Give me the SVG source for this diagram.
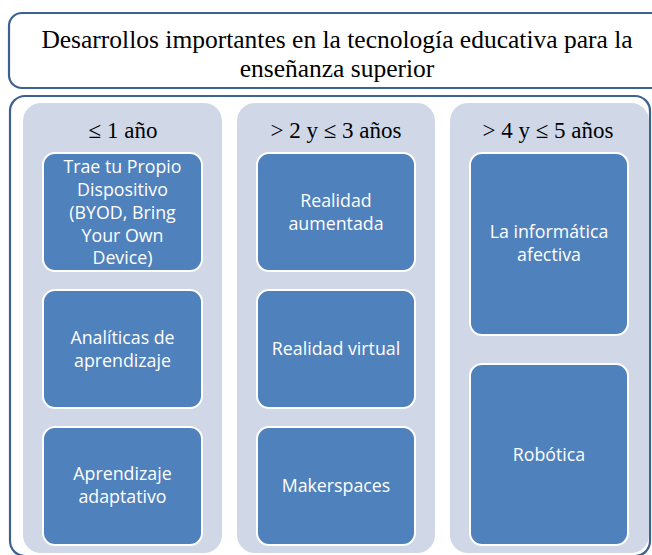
<svg xmlns="http://www.w3.org/2000/svg" width="652" height="555" viewBox="0 0 652 555">
<style>
.frame{fill:#fff;stroke:#3d6291;stroke-width:2.2}
.col{fill:#d0d8e8}
.box{fill:#4f81bd;stroke:#fff;stroke-width:2}
.ttl{font-family:"Liberation Serif",serif;font-size:25.5px;fill:#000;text-anchor:middle}
.hdr{font-family:"Liberation Serif",serif;font-size:23px;fill:#000;text-anchor:middle}
.lbl{font-family:"Open Sans",Lato,sans-serif;font-size:17.8px;fill:#fff;text-anchor:middle}
</style>
<rect width="652" height="555" fill="#fff"/>
<g id="title">
<rect class="frame" x="9" y="13" width="660" height="75" rx="13"/>
<text class="ttl" x="337" y="48">Desarrollos importantes en la tecnología educativa para la</text>
<text class="ttl" x="337" y="77">enseñanza superior</text>
</g>
<g id="container">
<rect class="frame" x="10" y="96" width="640" height="460" rx="15"/>
</g>
<g id="col1">
<rect class="col" x="23" y="103" width="199" height="450" rx="18"/>
<text class="hdr" x="123" y="138">≤ 1 año</text>
</g>
<g id="col2">
<rect class="col" x="237" y="103" width="198" height="450" rx="18"/>
<text class="hdr" x="336" y="138">&gt; 2 y ≤ 3 años</text>
</g>
<g id="col3">
<rect class="col" x="450" y="103" width="199" height="450" rx="18"/>
<text class="hdr" x="548" y="138">&gt; 4 y ≤ 5 años</text>
</g>
<g id="byod">
<rect class="box" x="43" y="153" width="159" height="118" rx="12"/>
<text class="lbl" x="122.5" y="173">Trae tu Propio</text>
<text class="lbl" x="122.5" y="196">Dispositivo</text>
<text class="lbl" x="122.5" y="219">(BYOD, Bring</text>
<text class="lbl" x="122.5" y="242">Your Own</text>
<text class="lbl" x="122.5" y="264">Device)</text>
</g>
<g id="analiticas">
<rect class="box" x="43" y="290" width="159" height="118" rx="12"/>
<text class="lbl" x="122.5" y="344">Analíticas de</text>
<text class="lbl" x="122.5" y="367">aprendizaje</text>
</g>
<g id="adaptativo">
<rect class="box" x="43" y="427" width="159" height="118" rx="12"/>
<text class="lbl" x="122.5" y="480">Aprendizaje</text>
<text class="lbl" x="122.5" y="503">adaptativo</text>
</g>
<g id="aumentada">
<rect class="box" x="257" y="153" width="158" height="118" rx="12"/>
<text class="lbl" x="336" y="207">Realidad</text>
<text class="lbl" x="336" y="230">aumentada</text>
</g>
<g id="virtual">
<rect class="box" x="257" y="290" width="158" height="118" rx="12"/>
<text class="lbl" x="336" y="355">Realidad virtual</text>
</g>
<g id="makerspaces">
<rect class="box" x="257" y="427" width="158" height="118" rx="12"/>
<text class="lbl" x="336" y="492">Makerspaces</text>
</g>
<g id="afectiva">
<rect class="box" x="470" y="153" width="158" height="182" rx="12"/>
<text class="lbl" x="549" y="238">La informática</text>
<text class="lbl" x="549" y="261">afectiva</text>
</g>
<g id="robotica">
<rect class="box" x="470" y="364" width="158" height="181" rx="12"/>
<text class="lbl" x="549" y="461">Robótica</text>
</g>
<g id="connectors"/>
</svg>
